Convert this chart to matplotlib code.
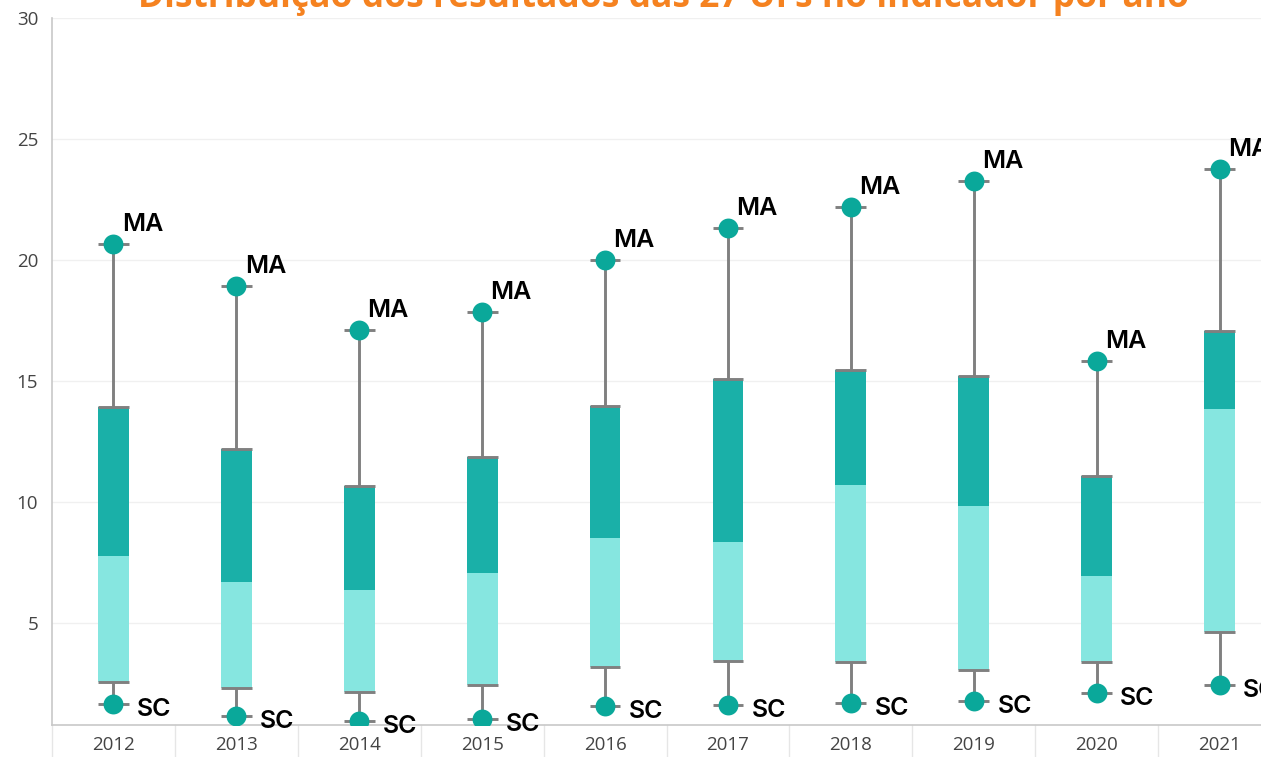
import matplotlib.pyplot as plt

plt.rcParams['font.family'] = ['Open Sans', 'DejaVu Sans']

# distribution of the 27 UFs per year
anos = ['2012', '2013', '2014', '2015', '2016', '2017', '2018', '2019', '2020', '2021']
minimo = [1.65, 1.15, 0.95, 1.05, 1.57, 1.61, 1.69, 1.79, 2.10, 2.45]
q1 = [2.56, 2.31, 2.15, 2.44, 3.18, 3.43, 3.39, 3.05, 3.39, 4.63]
mediana = [7.77, 6.69, 6.36, 7.07, 8.51, 8.35, 10.70, 9.83, 6.94, 13.84]
q3 = [13.93, 12.19, 10.66, 11.86, 13.97, 15.08, 15.45, 15.21, 11.07, 17.07]
maximo = [20.66, 18.93, 17.11, 17.85, 20.00, 21.32, 22.19, 23.26, 15.83, 23.76]
uf_min = ['SC'] * 10
uf_max = ['MA'] * 10

W, H = 1261, 757
fig = plt.figure(figsize=(W / 100, H / 100), dpi=100)
ax = fig.add_axes([52 / W, 32 / H, 1229 / W, 707 / H])

x = list(range(len(anos)))
bw = 0.25
claro = '#86e6e0'
escuro = '#1ab0a8'
ponto = '#0aa89a'
cinza = '#808080'

# whiskers
ax.vlines(x, q3, maximo, color=cinza, lw=2.1, zorder=2)
ax.vlines(x, minimo, q1, color=cinza, lw=2.1, zorder=2)

# two-tone boxes
ax.bar(x, [m - a for m, a in zip(mediana, q1)], bottom=q1, width=bw, color=claro, zorder=3)
ax.bar(x, [b - m for b, m in zip(q3, mediana)], bottom=mediana, width=bw, color=escuro, zorder=3)

# caps at min, q1, q3, max
for vals in (minimo, q1, q3, maximo):
    ax.hlines(vals, [i - bw / 2 for i in x], [i + bw / 2 for i in x],
              color=cinza, lw=2.1, zorder=4)

ax.scatter(x, maximo, s=205, color=ponto, zorder=5, linewidths=0)
ax.scatter(x, minimo, s=205, color=ponto, zorder=5, linewidths=0)

rotulo = dict(family=['Inter', 'DejaVu Sans'], fontsize=18, fontweight='semibold',
              color='black', zorder=6)
for i in x:
    ax.annotate(uf_max[i], (i, maximo[i]), xytext=(6, 9.5), textcoords='offset points',
                ha='left', va='baseline', **rotulo)
    ax.annotate(uf_min[i], (i, minimo[i]), xytext=(17, -4), textcoords='offset points',
                ha='left', va='center', **rotulo)

ax.set_xlim(-0.5, len(anos) - 0.5)
ax.set_ylim(0.79, 30)
ax.set_yticks([5, 10, 15, 20, 25, 30])
ax.set_xticks(x)
ax.set_xticklabels(anos)
ax.tick_params(axis='both', length=0, labelsize=13.5, labelcolor='#444444')
ax.tick_params(axis='y', pad=10)
ax.tick_params(axis='x', pad=8)
ax.grid(axis='y', color='#f0f0f0', lw=1)
ax.set_axisbelow(True)

for s in ['top', 'right']:
    ax.spines[s].set_visible(False)
ax.spines['left'].set_color('#c8c8c8')
ax.spines['bottom'].set_color('#c8c8c8')
ax.spines['left'].set_linewidth(1.2)
ax.spines['bottom'].set_linewidth(1.2)

# category separators below the axis
for i in range(len(anos) + 1):
    ax.plot([i - 0.5, i - 0.5], [0, -0.07], transform=ax.get_xaxis_transform(),
            color='#e6e6e6', lw=1, clip_on=False)

fig.text(663 / W, 1 - 7 / H, 'Distribuição dos resultados das 27 UFs no indicador por ano',
         ha='center', va='baseline', fontsize=25.5, fontweight='bold', color='#f58220')

fig.savefig('out.png', dpi=100)
